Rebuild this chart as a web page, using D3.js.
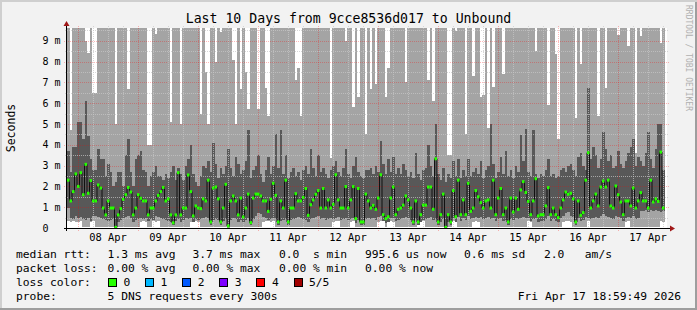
<!DOCTYPE html>
<html>
<head>
<meta charset="utf-8">
<script src="https://cdn.jsdelivr.net/npm/d3@7"></script>
<style>
  body { margin: 0; background: #f2f2f2; }
  svg { display: block; }
  text { font-family: "DejaVu Sans Mono", monospace; white-space: pre; }
</style>
</head>
<body>
<script>
// one value per hourly bin, in milliseconds
var medianMs = [
  2.3, 1.3, 1.75, 2.6, 2.0, 2.66, 1.6, 3.06, 1.67, 2.28,
  1.3, 1.3, 2.07, 1.92, 0.96, 0.63, 1.3, 0.96, 0.96, 0.03,
  0.63, 0.93, 1.38, 1.6, 1.95, 1.73, 0.63, 0.96, 1.6, 1.43,
  1.3, 1.3, 0.63, 0.96, 0.96, 1.3, 1.57, 1.75, 1.95, 1.3,
  1.4, 0.63, 0.25, 0.63, 2.66, 0.63, 0.96, 0.96, 2.55, 1.75,
  0.58, 1.06, 0.96, 0.93, 1.4, 1.3, 2.3, 0.29, 1.92, 1.97,
  1.4, 0.29, 0.96, 2.1, 0.1, 1.3, 1.54, 1.3, 0.63, 1.44,
  0.53, 0.96, 1.63, 0.26, 1.44, 1.63, 1.63, 1.54, 1.3, 1.3,
  0.8, 1.38, 2.15, 1.57, 0.29, 1.3, 0.96, 2.3, 0.29, 0.96,
  0.96, 1.65, 1.3, 1.3, 1.47, 1.9, 0.61, 1.12, 1.35, 1.62,
  1.8, 0.96, 1.9, 0.96, 1.35, 0.96, 1.14, 2.56, 1.35, 0.96,
  0.96, 1.99, 0.96, 1.35, 1.99, 0.45, 1.9, 0.29, 0.29, 1.63,
  1.3, 0.96, 1.09, 0.9, 1.44, 2.56, 0.64, 0.45, 0.54, 1.44,
  1.97, 0.64, 0.9, 0.96, 1.1, 1.54, 1.35, 0.96, 0.29, 1.3,
  0.29, 0.64, 1.1, 1.1, 1.97, 1.97, 0.9, 3.33, 0.29, 0.64,
  1.63, 0.03, 0.64, 0.29, 1.8, 0.54, 2.3, 0.64, 1.35, 0.64,
  2.15, 0.8, 0.96, 1.8, 1.5, 1.22, 0.96, 1.3, 1.35, 0.96,
  2.3, 0.64, 1.44, 1.9, 0.64, 0.96, 0.29, 1.44, 0.77, 1.44,
  0.9, 1.83, 2.23, 1.71, 1.28, 0.64, 1.3, 2.37, 0.58, 0.64,
  0.64, 1.06, 1.94, 0.64, 0.96, 0.64, 0.5, 0.96, 1.35, 1.73,
  1.62, 1.67, 1.4, 0.29, 1.3, 0.61, 0.74, 2.3, 3.62, 0.96,
  1.3, 1.63, 1.06, 1.97, 2.26, 1.97, 2.3, 1.06, 0.96, 2.02,
  1.6, 1.25, 0.64, 1.3, 1.3, 1.06, 1.92, 0.96, 1.3, 1.7,
  1.3, 1.3, 0.96, 2.3, 1.25, 1.4, 1.28, 3.65, 0.96
];
// fastest ping
var minMs = [
  0.32, 0.3, 0.35, 0.3, 0.28, 0.33, 0.04, 0.05, 0.03, 0.3,
  0.34, 0.05, 0.04, 0.06, 0.05, 0.03, 0.04, 0.05, 0.04, 0.0,
  0.04, 0.05, 0.03, 0.05, 0.04, 0.06, 0.03, 0.05, 0.04, 0.3,
  0.33, 0.28, 0.04, 0.05, 0.32, 0.3, 0.35, 0.04, 0.05, 0.03,
  0.05, 0.04, 0.03, 0.05, 0.06, 0.04, 0.05, 0.03, 0.04, 0.3,
  0.32, 0.35, 0.3, 0.04, 0.05, 0.03, 0.04, 0.05, 0.04, 0.05,
  0.04, 0.03, 0.05, 0.04, 0.02, 0.05, 0.04, 0.06, 0.04, 0.05,
  0.03, 0.05, 0.04, 0.03, 0.05, 0.04, 0.06, 0.05, 0.3, 0.34,
  0.32, 0.3, 0.35, 0.04, 0.03, 0.05, 0.04, 0.05, 0.03, 0.04,
  0.05, 0.04, 0.06, 0.05, 0.04, 0.05, 0.03, 0.04, 0.05, 0.04,
  0.05, 0.04, 0.05, 0.04, 0.06, 0.05, 0.3, 0.35, 0.32, 0.04,
  0.05, 0.04, 0.05, 0.3, 0.33, 0.04, 0.05, 0.03, 0.04, 0.05,
  0.04, 0.05, 0.04, 0.05, 0.3, 0.35, 0.32, 0.04, 0.3, 0.33,
  0.3, 0.05, 0.04, 0.05, 0.04, 0.06, 0.05, 0.04, 0.03, 0.05,
  0.2, 0.3, 0.33, 0.04, 0.05, 0.04, 0.05, 0.06, 0.03, 0.04,
  0.05, 0.01, 0.04, 0.03, 0.32, 0.3, 0.05, 0.04, 0.05, 0.04,
  0.05, 0.04, 0.3, 0.34, 0.3, 0.05, 0.04, 0.05, 0.06, 0.04,
  0.05, 0.04, 0.05, 0.04, 0.05, 0.04, 0.03, 0.05, 0.04, 0.05,
  0.04, 0.05, 0.06, 0.05, 0.33, 0.3, 0.05, 0.04, 0.05, 0.04,
  0.05, 0.04, 0.05, 0.04, 0.05, 0.04, 0.05, 0.04, 0.3, 0.35,
  0.32, 0.3, 0.04, 0.03, 0.05, 0.04, 0.05, 0.04, 0.35, 0.05,
  0.04, 0.05, 0.04, 0.06, 0.05, 0.04, 0.05, 0.04, 0.05, 0.04,
  0.05, 0.04, 0.05, 0.3, 0.33, 0.04, 0.05, 0.04, 0.05, 0.04,
  0.05, 0.04, 0.05, 0.04, 0.05, 0.04, 0.05, 0.32, 0.3
];
// 2nd ping (bottom of dark smoke)
var loMs = [
  0.95, 0.5, 0.45, 0.6, 0.5, 0.55, 0.45, 0.4, 0.5, 0.35,
  0.6, 0.6, 0.55, 0.5, 0.45, 0.4, 0.35, 0.4, 0.45, 0.02,
  0.3, 0.4, 0.5, 0.55, 0.6, 0.5, 0.3, 0.4, 0.45, 0.5,
  0.45, 0.5, 0.35, 0.45, 0.4, 0.6, 0.55, 0.5, 0.45, 0.4,
  0.35, 0.3, 0.15, 0.35, 0.45, 0.3, 0.4, 0.5, 0.45, 0.5,
  0.3, 0.45, 0.4, 0.45, 0.5, 0.55, 0.5, 0.15, 0.4, 0.45,
  0.4, 0.15, 0.35, 0.45, 0.05, 0.4, 0.5, 0.45, 0.3, 0.4,
  0.3, 0.4, 0.5, 0.15, 0.45, 0.6, 0.7, 0.65, 0.55, 0.5,
  0.4, 0.45, 0.5, 0.45, 0.15, 0.35, 0.4, 0.45, 0.15, 0.4,
  0.45, 0.5, 0.55, 0.5, 0.45, 0.4, 0.3, 0.45, 0.5, 0.55,
  0.6, 0.45, 0.5, 0.4, 0.45, 0.5, 0.45, 0.5, 0.55, 0.4,
  0.45, 0.5, 0.4, 0.45, 0.5, 0.25, 0.4, 0.15, 0.15, 0.45,
  0.5, 0.45, 0.5, 0.4, 0.55, 0.6, 0.35, 0.25, 0.3, 0.5,
  0.5, 0.35, 0.4, 0.45, 0.5, 0.55, 0.5, 0.4, 0.15, 0.45,
  0.15, 0.3, 0.4, 0.45, 0.5, 0.55, 0.4, 0.45, 0.15, 0.3,
  0.45, 0.02, 0.3, 0.15, 0.5, 0.3, 0.55, 0.35, 0.5, 0.4,
  0.6, 0.45, 0.5, 0.55, 0.5, 0.55, 0.45, 0.5, 0.55, 0.45,
  0.5, 0.35, 0.45, 0.5, 0.35, 0.4, 0.15, 0.45, 0.4, 0.5,
  0.45, 0.5, 0.55, 0.5, 0.5, 0.35, 0.45, 0.5, 0.3, 0.35,
  0.35, 0.45, 0.6, 0.35, 0.45, 0.35, 0.3, 0.5, 0.6, 0.7,
  0.75, 0.6, 0.55, 0.15, 0.5, 0.35, 0.4, 0.55, 0.5, 0.45,
  0.5, 0.55, 0.5, 0.6, 0.65, 0.6, 0.55, 0.5, 0.45, 0.6,
  0.55, 0.5, 0.35, 0.5, 0.55, 0.5, 0.6, 0.45, 0.5, 0.8,
  0.8, 0.85, 0.75, 0.85, 0.8, 0.85, 0.8, 0.75, 0.8
];
// 4th ping (top of dark smoke)
var hiMs = [
  3.7, 2.7, 3.9, 3.9, 5.1, 5.1, 4.3, 6.1, 4.4, 3.3,
  2.8, 2.8, 3.8, 3.3, 3.3, 2.5, 3.1, 2.7, 2.0, 2.2,
  2.7, 2.7, 2.0, 3.5, 4.3, 2.7, 2.0, 3.3, 3.5, 3.7,
  2.8, 2.7, 2.0, 2.5, 2.7, 3.0, 2.5, 2.5, 2.3, 2.6,
  2.4, 2.7, 3.0, 2.3, 2.9, 2.6, 2.3, 3.0, 3.3, 4.0,
  2.6, 2.2, 2.0, 2.5, 3.0, 2.9, 3.2, 2.7, 4.1, 3.1,
  2.4, 2.9, 2.6, 3.0, 3.8, 2.9, 2.5, 3.4, 3.1, 2.6,
  2.8, 3.2, 4.7, 2.4, 2.8, 3.0, 3.5, 2.6, 2.2, 2.8,
  3.4, 2.6, 3.0, 4.5, 2.9, 4.7, 2.6, 3.5, 2.4, 2.7,
  2.9, 2.5, 2.7, 2.3, 2.8, 3.0, 2.6, 3.8, 2.9, 2.5,
  3.5, 2.7, 2.9, 2.6, 2.4, 2.8, 3.0, 3.2, 2.7, 2.5,
  2.9, 3.8, 2.6, 2.4, 3.0, 3.4, 2.7, 2.5, 2.4, 2.8,
  2.8, 2.9, 2.6, 3.0, 2.7, 4.2, 3.1, 2.6, 3.3, 2.7,
  3.4, 2.6, 2.9, 2.6, 3.1, 2.8, 2.5, 2.7, 2.4, 3.6,
  2.6, 2.3, 2.8, 2.9, 4.0, 3.0, 2.5, 5.0, 2.6, 2.3,
  2.9, 2.2, 2.6, 2.4, 3.2, 2.5, 3.3, 2.4, 2.8, 2.5,
  3.3, 2.5, 2.7, 2.9, 2.6, 3.2, 2.4, 2.8, 3.0, 5.0,
  3.1, 2.4, 2.7, 3.4, 2.6, 3.7, 2.5, 2.8, 2.4, 3.0,
  2.7, 4.45, 3.2, 4.75, 2.7, 2.5, 4.7, 2.6, 2.4, 2.6,
  2.5, 2.8, 3.3, 2.5, 2.6, 2.4, 2.5, 2.8, 2.9, 2.7,
  3.0, 3.1, 2.8, 2.5, 3.4, 3.6, 3.0, 2.8, 6.75, 3.3,
  3.9, 3.5, 2.9, 3.3, 4.6, 3.8, 3.2, 3.5, 2.9, 3.0,
  3.7, 3.1, 2.9, 3.2, 3.6, 3.9, 4.3, 3.0, 3.4, 3.2,
  3.0, 3.6, 4.6, 3.3, 2.9, 3.8, 5.0, 5.0, 2.8
];
// slowest ping (10 = above the top of the graph)
var maxMs = [
  10, 4.7, 10, 10, 10, 10, 10, 9.0, 8.4, 10,
  6.5, 6.5, 10, 10, 10, 10, 10, 10, 10, 5.0,
  10, 10, 10, 10, 6.7, 10, 10, 10, 10, 10,
  10, 10, 4.0, 4.0, 10, 9.35, 10, 10, 10, 10,
  10, 5.1, 10, 10, 10, 5.0, 10, 10, 10, 10,
  10, 10, 10, 5.5, 10, 7.5, 5.0, 10, 10, 8.0,
  10, 9.4, 10, 10, 10, 10, 8.1, 5.0, 10, 6.7,
  10, 7.5, 5.7, 10, 10, 10, 5.7, 10, 10, 6.75,
  5.4, 10, 10, 10, 10, 10, 10, 10, 10, 10,
  10, 7.1, 7.7, 5.4, 10, 10, 10, 10, 10, 10,
  10, 10, 10, 10, 10, 3.35, 10, 10, 10, 10,
  10, 9.0, 10, 10, 5.8, 10, 6.3, 10, 10, 4.5,
  10, 6.7, 10, 6.9, 10, 10, 10, 6.3, 7.7, 10,
  10, 10, 10, 10, 10, 7.0, 10, 10, 10, 10,
  10, 10, 10, 10, 7.1, 10, 6.1, 10, 10, 10,
  10, 10, 3.5, 3.5, 10, 9.45, 10, 10, 10, 4.5,
  10, 10, 7.3, 10, 10, 6.3, 6.4, 10, 4.8, 10,
  6.8, 10, 10, 10, 7.4, 10, 10, 10, 10, 10,
  10, 10, 10, 10, 10, 10, 10, 8.5, 10, 10,
  10, 10, 5.9, 10, 10, 8.35, 4.3, 10, 10, 10,
  10, 10, 10, 5.3, 10, 7.9, 10, 10, 10, 10,
  10, 10, 5.4, 10, 10, 6.75, 10, 10, 10, 10,
  9.3, 10, 10, 10, 8.75, 10, 10, 3.6, 10, 9.25,
  10, 10, 10, 10, 10, 10, 10, 8.9, 10
];

var yTicks = [0, 1, 2, 3, 4, 5, 6, 7, 8, 9];
var yTickLabels = ["0", "1 m", "2 m", "3 m", "4 m", "5 m", "6 m", "7 m", "8 m", "9 m"];
var dayLabels = ["08 Apr", "09 Apr", "10 Apr", "11 Apr", "12 Apr", "13 Apr", "14 Apr", "15 Apr", "16 Apr", "17 Apr"];
var rttLegend = ["median rtt:", "1.3 ms avg", "3.7 ms max", "0.0  s min", "995.6 us now", "0.6 ms sd", "2.0   am/s"];
var lossLegend = ["packet loss:", "0.00 % avg", "0.00 % max", "0.00 % min", "0.00 % now"];
var lossNames = ["0", "1", "2", "3", "4", "5/5"];
var lossColors = ["#26ff00", "#00b8ff", "#0059ff", "#7e00ff", "#ff0000", "#a10000"];

var width = 697, height = 310;
var plot = { left: 67, right: 667, top: 28, bottom: 228 };
var legendCols = [16, 107.6, 192.4, 279, 365, 464, 544];
var majorGrid = "rgba(255,0,0,0.28)", minorGrid = "rgba(200,200,200,0.7)";

var start = new Date(2026, 3, 7, 19, 36);
var end = d3.timeDay.offset(start, 10);

var x = d3.scaleTime().domain([start, end]).range([plot.left, plot.right]);
var y = d3.scaleLinear().domain([0, 9.615]).range([plot.bottom, plot.top]).clamp(true);

var svg = d3.select("body").append("svg")
  .attr("width", width)
  .attr("height", height);

// background with rrdtool style shading
svg.append("rect").attr("width", width).attr("height", height).attr("fill", "#f2f2f2");
svg.append("path").attr("d", "M0,0H697V2H2V310H0Z").attr("fill", "#cfcfcf");
svg.append("path").attr("d", "M697,0V310H0V308H695V2H697Z").attr("fill", "#9e9e9e");

// canvas
svg.append("rect")
  .attr("x", plot.left).attr("y", plot.top)
  .attr("width", plot.right - plot.left).attr("height", plot.bottom - plot.top)
  .attr("fill", "#ffffff");

var bins = medianMs.map(function(m, i) {
  return { t: d3.timeHour.offset(start, i), med: m, min: minMs[i], lo: loMs[i], hi: hiMs[i], max: maxMs[i] };
});
var last = bins[bins.length - 1];
var stepData = bins.concat([{ t: d3.timeHour.offset(start, bins.length), med: last.med, min: last.min, lo: last.lo, hi: last.hi, max: last.max }]);

// smoke
var outer = d3.area().curve(d3.curveStepAfter)
  .x(function(d) { return x(d.t); })
  .y0(function(d) { return y(d.min); })
  .y1(function(d) { return y(d.max); });
var inner = d3.area().curve(d3.curveStepAfter)
  .x(function(d) { return x(d.t); })
  .y0(function(d) { return y(d.lo); })
  .y1(function(d) { return y(d.hi); });

svg.append("path").attr("d", outer(stepData)).attr("fill", "#a4a4a4").attr("shape-rendering", "crispEdges");
svg.append("path").attr("d", inner(stepData)).attr("fill", "#585858").attr("shape-rendering", "crispEdges");

// grid
var gridG = svg.append("g").attr("stroke-dasharray", "1,1").attr("shape-rendering", "crispEdges");
var halfSteps = d3.range(1, 20).map(function(i) { return i * 0.5; });
halfSteps.forEach(function(v) {
  var major = v % 1 === 0;
  var yy = Math.round(y(v)) + 0.5;
  gridG.append("line")
    .attr("x1", major ? plot.left - 3 : plot.left - 2).attr("x2", major ? plot.right + 3 : plot.right + 2)
    .attr("y1", yy).attr("y2", yy)
    .attr("stroke", major ? majorGrid : minorGrid);
});
d3.timeHour.every(6).range(start, end).forEach(function(t) {
  var major = t.getHours() === 0;
  var xx = Math.round(x(t)) + 0.5;
  gridG.append("line")
    .attr("x1", xx).attr("x2", xx)
    .attr("y1", plot.top - 2).attr("y2", major ? plot.bottom + 3 : plot.bottom + 2)
    .attr("stroke", major ? majorGrid : minorGrid);
});

// median
var medLine = d3.line().curve(d3.curveStepAfter)
  .x(function(d) { return x(d.t); })
  .y(function(d) { return y(d.med); });
svg.append("path").attr("d", medLine(stepData))
  .attr("fill", "none").attr("stroke", "#111").attr("stroke-width", 1);

svg.append("g").selectAll("rect")
  .data(bins)
  .enter().append("rect")
  .attr("x", function(d) { return x(d.t); })
  .attr("width", function(d) { return x(d3.timeHour.offset(d.t, 1)) - x(d.t); })
  .attr("y", function(d) { return y(d.med) - 1.5; })
  .attr("height", 3)
  .attr("fill", lossColors[0]);

// axes
svg.append("line").attr("x1", plot.left - 3).attr("x2", plot.right + 4)
  .attr("y1", plot.bottom + 0.5).attr("y2", plot.bottom + 0.5)
  .attr("stroke", "#000").attr("shape-rendering", "crispEdges");
svg.append("line").attr("x1", plot.left - 0.5).attr("x2", plot.left - 0.5)
  .attr("y1", plot.bottom + 3).attr("y2", plot.top - 3)
  .attr("stroke", "#000").attr("shape-rendering", "crispEdges");
svg.append("path")
  .attr("d", "M" + (plot.right + 3) + "," + (plot.bottom - 2.5) + "L" + (plot.right + 8) + "," + (plot.bottom + 0.5) + "L" + (plot.right + 3) + "," + (plot.bottom + 3.5) + "Z")
  .attr("fill", "#a01818");
svg.append("path")
  .attr("d", "M" + (plot.left - 3.5) + "," + (plot.top - 2) + "L" + (plot.left - 0.5) + "," + (plot.top - 7) + "L" + (plot.left + 2.5) + "," + (plot.top - 2) + "Z")
  .attr("fill", "#a01818");

// axis labels
svg.append("g").selectAll("text")
  .data(yTicks)
  .enter().append("text")
  .attr("x", 42.5)
  .attr("y", function(d) { return y(d) + 3.6; })
  .attr("font-size", "10px")
  .attr("fill", "#000")
  .text(function(d, i) { return yTickLabels[i]; });

svg.append("g").selectAll("text")
  .data(dayLabels)
  .enter().append("text")
  .attr("x", function(d, i) { return x(d3.timeHour.offset(d3.timeDay.offset(d3.timeDay.ceil(start), i), 12)); })
  .attr("y", 241)
  .attr("text-anchor", "middle")
  .attr("font-size", "10.4px")
  .text(function(d) { return d; });

svg.append("text")
  .attr("transform", "translate(15," + ((plot.top + plot.bottom) / 2) + ") rotate(-90)")
  .attr("text-anchor", "middle")
  .attr("font-size", "11.5px")
  .text("Seconds");

svg.append("text")
  .attr("x", 348.5).attr("y", 23)
  .attr("text-anchor", "middle")
  .attr("font-size", "13.2px")
  .text("Last 10 Days from 9cce8536d017 to Unbound");

svg.append("text")
  .attr("transform", "translate(685.5,5) rotate(90)")
  .attr("font-size", "8px")
  .attr("fill", "#b0b0b0")
  .text("RRDTOOL / TOBI OETIKER");

// legend
var legend = svg.append("g").attr("font-size", "11.3px").attr("fill", "#000");
rttLegend.forEach(function(s, i) {
  legend.append("text").attr("x", legendCols[i]).attr("y", 258).text(s);
});
lossLegend.forEach(function(s, i) {
  legend.append("text").attr("x", legendCols[i]).attr("y", 272).text(s);
});
legend.append("text").attr("x", legendCols[0]).attr("y", 286).text("loss color:");
lossNames.forEach(function(s, i) {
  var bx = 108 + i * 37.1;
  legend.append("rect").attr("x", Math.round(bx) + 0.5).attr("y", 278.5)
    .attr("width", 8).attr("height", 8)
    .attr("fill", lossColors[i]).attr("stroke", "#000");
  legend.append("text").attr("x", bx + 15.5).attr("y", 286).text(s);
});
legend.append("text").attr("x", legendCols[0]).attr("y", 300).text("probe:");
legend.append("text").attr("x", legendCols[1]).attr("y", 300).text("5 DNS requests every 300s");
legend.append("text").attr("x", 681).attr("y", 300).attr("text-anchor", "end").text("Fri Apr 17 18:59:49 2026");
</script>
</body>
</html>
